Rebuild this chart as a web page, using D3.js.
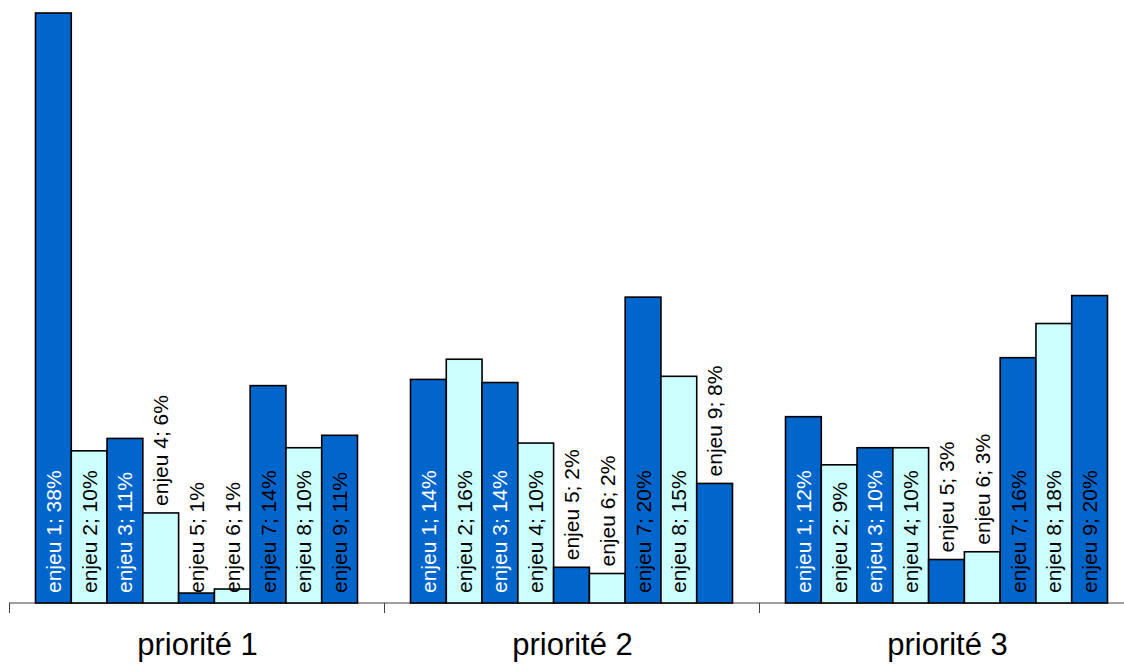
<!DOCTYPE html>
<html>
<head>
<meta charset="utf-8">
<script src="https://cdn.jsdelivr.net/npm/d3@7"></script>
<style>
  html, body { margin: 0; padding: 0; background: #fff; }
  svg { display: block; font-family: "Liberation Sans", Arial, sans-serif; }
</style>
</head>
<body>
<svg id="chart" width="1124" height="666"></svg>
<script>
// ---- data ----
const categories = ["priorité 1", "priorité 2", "priorité 3"];
const series = ["enjeu 1", "enjeu 2", "enjeu 3", "enjeu 4", "enjeu 5", "enjeu 6", "enjeu 7", "enjeu 8", "enjeu 9"];
const priorite1 = [0.380, 0.098, 0.106, 0.058, 0.0064, 0.009, 0.140, 0.100, 0.108];
const priorite2 = [0.144, 0.157, 0.142, 0.103, 0.023, 0.019, 0.197, 0.146, 0.077];
const priorite3 = [0.120, 0.089, 0.100, 0.100, 0.028, 0.033, 0.158, 0.180, 0.198];
const seriesColors = ["#0066CC", "#CCFFFF", "#0066CC", "#CCFFFF", "#0066CC", "#CCFFFF", "#0066CC", "#CCFFFF", "#0066CC"];
const labelColors = ["#ffffff", "#000000", "#ffffff", "#000000", "#000000", "#000000", "#000000", "#000000", "#000000"];

const valuesByCategory = [priorite1, priorite2, priorite3];
const rows = [];
categories.forEach((c, ci) => {
  series.forEach((s, si) => rows.push({ cat: c, ser: s, si, value: valuesByCategory[ci][si] }));
});

// ---- layout ----
const svg = d3.select("#chart");
const baseY = 603;
const x0 = d3.scaleBand().domain(categories).range([10, 1135]).padding(0);
const x1 = d3.scaleBand().domain(series).range([25.5, 347.5]).padding(0);
const y = d3.scaleLinear().domain([0, 0.38]).range([baseY, 13]);
const pct = d3.format(".0%");

// axis
const axisG = svg.append("g").attr("transform", `translate(0,${baseY})`);
axisG.append("line").attr("x1", 9).attr("x2", 1124).attr("y1", 0).attr("y2", 0)
  .attr("stroke", "#808080").attr("stroke-width", 1.5);
categories.forEach(c => {
  const xx = Math.round(x0(c)) - 0.5;
  axisG.append("line").attr("x1", xx).attr("x2", xx).attr("y1", 0).attr("y2", 10)
    .attr("stroke", "#404040").attr("stroke-width", 1);
});

// bars
const bars = svg.append("g");
bars.selectAll("rect").data(rows).join("rect")
  .attr("x", d => x0(d.cat) + x1(d.ser))
  .attr("y", d => y(d.value))
  .attr("width", x1.bandwidth())
  .attr("height", d => baseY - y(d.value))
  .attr("fill", d => seriesColors[d.si])
  .attr("stroke", "#000")
  .attr("stroke-width", 1.6);

// labels
const labels = svg.append("g");
labels.selectAll("text").data(rows).join("text")
  .text(d => `${d.ser}; ${pct(d.value)}`)
  .attr("font-size", 21)
  .attr("dominant-baseline", "central")
  .attr("text-anchor", "start")
  .each(function(d) {
    const len = this.getComputedTextLength();
    const h = baseY - y(d.value);
    const cx = x0(d.cat) + x1(d.ser) + x1.bandwidth() / 2;
    let ty, fill;
    if (len + 14 > h && h > 20) {
      ty = y(d.value) - 7;
      fill = "#000";
    } else {
      ty = baseY - 10;
      fill = labelColors[d.si];
    }
    d3.select(this)
      .attr("transform", `translate(${cx},${ty}) rotate(-90)`)
      .attr("fill", fill);
  });

// category labels
svg.append("g").selectAll("text").data(categories).join("text")
  .attr("x", d => x0(d) + x0.bandwidth() / 2)
  .attr("y", 655)
  .attr("text-anchor", "middle")
  .attr("font-size", 31)
  .attr("fill", "#000")
  .text(d => d);
</script>
</body>
</html>
